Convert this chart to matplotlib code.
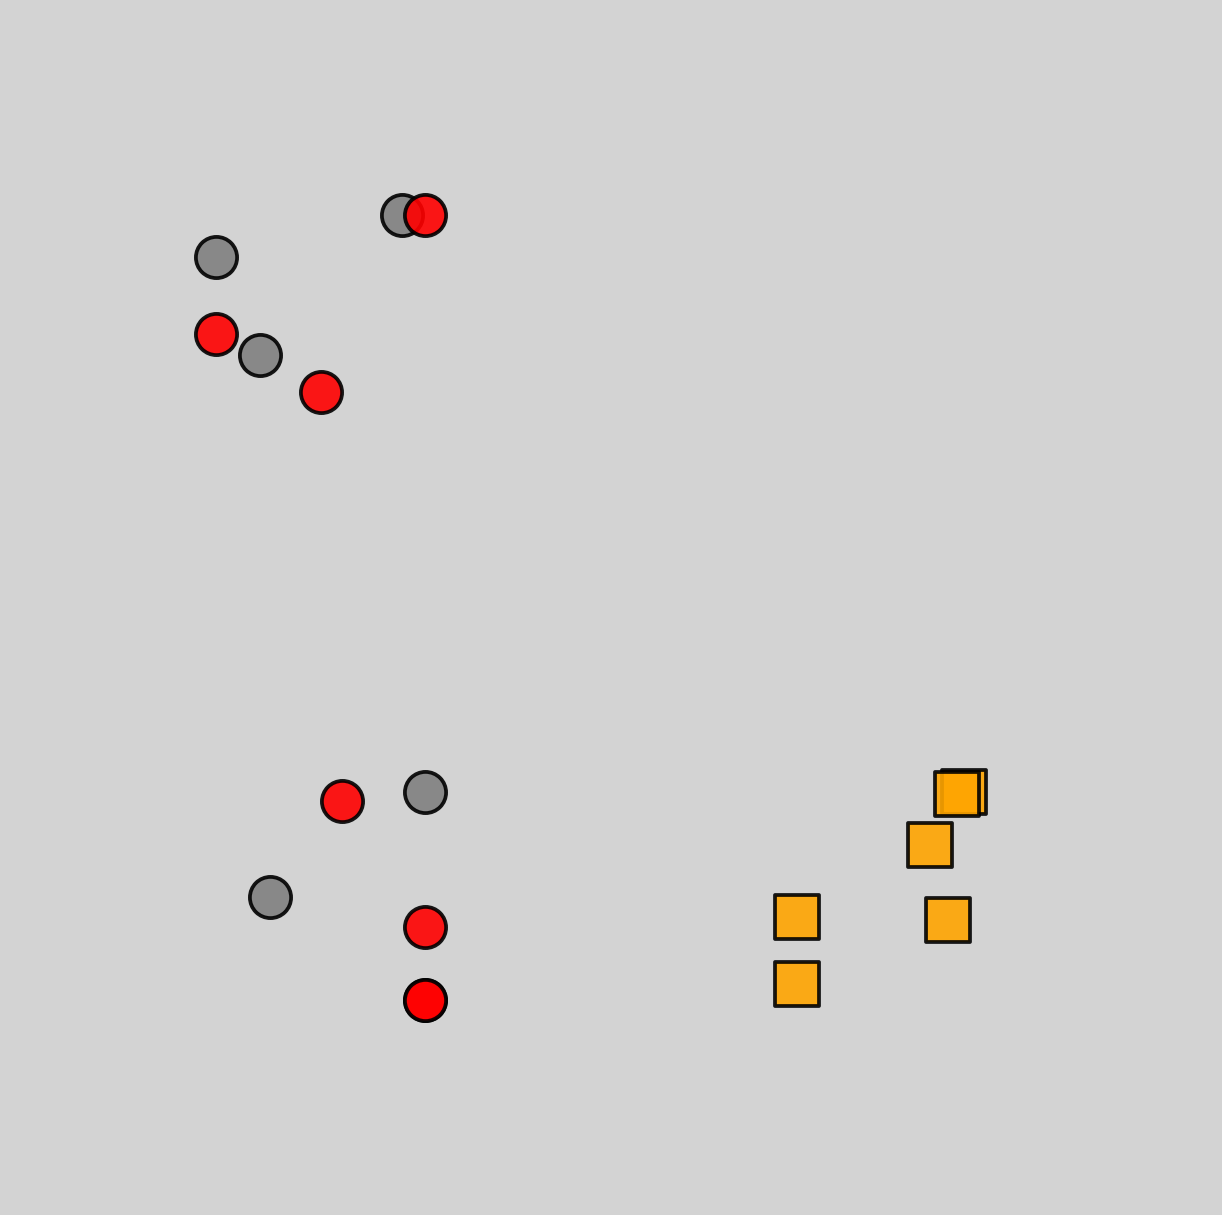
import matplotlib
matplotlib.use("Agg")
import matplotlib.pyplot as plt

# positions of the points (data units)
grey_x = [402, 216, 260, 425, 270]
grey_y = [1000, 958, 860, 423, 318]

red_x = [425, 216, 321, 342, 425, 425, 425]
red_y = [1000, 881, 823, 414, 288, 215, 215]

orange_x = [964, 956.5, 930, 797, 948, 797]
orange_y = [423.5, 421.5, 370, 298, 295, 231]

fig = plt.figure(figsize=(12.22, 12.15), dpi=100, facecolor="#d3d3d3")
ax = fig.add_axes([0, 0, 1, 1])
ax.set_facecolor("#d3d3d3")

ax.scatter(grey_x, grey_y, s=880, c="grey", marker="o", edgecolors="black", linewidths=2.7, alpha=0.9)
ax.scatter(red_x, red_y, s=880, c="red", marker="o", edgecolors="black", linewidths=2.7, alpha=0.9)
ax.scatter(orange_x, orange_y, s=960, c="orange", marker="s", edgecolors="black", linewidths=2.7, alpha=0.9)

ax.set_xlim(0, 1222)
ax.set_ylim(0, 1215)
ax.axis("off")

fig.savefig("out.png", dpi=100, facecolor="#d3d3d3")
